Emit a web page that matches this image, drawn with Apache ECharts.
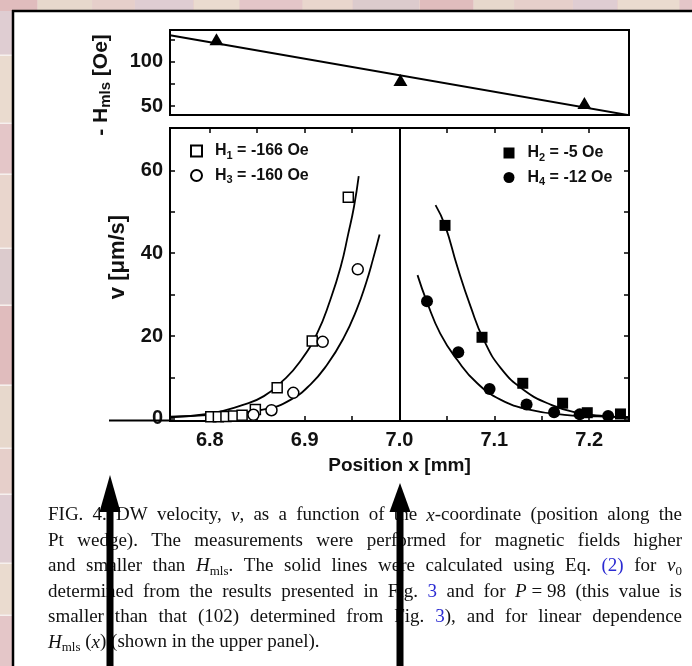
<!DOCTYPE html>
<html><head><meta charset="utf-8">
<script src="https://cdn.jsdelivr.net/npm/echarts@6/dist/echarts.min.js"></script>
<style>html,body{margin:0;padding:0;background:#fff}#c{width:692px;height:666px}</style>
</head><body><div id="c"></div>
<script>
// ---------- data ----------
const xMin = 6.758, xMax = 7.242;
const xTicks = [6.8, 6.85, 6.9, 6.95, 7.0, 7.05, 7.1, 7.15, 7.2];
const xLabels = [6.8, 6.9, 7.0, 7.1, 7.2];
const vMin = -0.5, vMax = 70.2;
const vTicks = [0, 10, 20, 30, 40, 50, 60];
const vLabels = [0, 20, 40, 60];
const hMin = 40, hMax = 136;
const hTicks = [50, 75, 100, 125];
const hLabels = [50, 100];
const dividerX = 7.0;

const hmlsX = [6.807, 7.001, 7.195];
const hmlsY = [125.5, 79.5, 53.5];
const hmlsFitX = [6.758, 7.242];
const hmlsFitY = [130.1, 39.8];

const h1X = [6.801, 6.809, 6.817, 6.825, 6.834, 6.848, 6.871, 6.908, 6.946];
const h1Y = [0.5, 0.5, 0.6, 0.7, 0.9, 2.3, 7.5, 18.8, 53.5];
const h3X = [6.846, 6.865, 6.888, 6.919, 6.956];
const h3Y = [1.0, 2.1, 6.3, 18.6, 36.1];
const h2X = [7.048, 7.087, 7.130, 7.172, 7.198, 7.233];
const h2Y = [46.7, 19.7, 8.6, 3.8, 1.5, 1.2];
const h4X = [7.029, 7.062, 7.095, 7.134, 7.163, 7.190, 7.220];
const h4Y = [28.4, 16.1, 7.2, 3.5, 1.6, 1.1, 0.7];

const fitH1X = [6.758, 6.800, 6.835, 6.857, 6.878, 6.895, 6.913, 6.927, 6.938, 6.946, 6.952, 6.957];
const fitH1Y = [0.55, 1.3, 3.4, 5.5, 9.4, 13.8, 20.6, 28.7, 36.7, 44.7, 51.2, 58.6];
const fitH3X = [6.758, 6.825, 6.860, 6.885, 6.906, 6.924, 6.941, 6.955, 6.965, 6.972, 6.979];
const fitH3Y = [0.4, 1.4, 2.4, 4.6, 8.3, 13.2, 19.5, 26.5, 33.0, 38.5, 44.5];
const fitH2X = [7.038, 7.048, 7.061, 7.075, 7.089, 7.107, 7.131, 7.160, 7.188, 7.216, 7.242];
const fitH2Y = [51.6, 46.7, 36.7, 27.1, 19.0, 12.2, 7.0, 3.4, 1.5, 0.7, 0.4];
const fitH4X = [7.019, 7.029, 7.043, 7.061, 7.082, 7.107, 7.138, 7.174, 7.209, 7.242];
const fitH4Y = [34.7, 28.2, 20.6, 14.2, 8.6, 4.6, 2.2, 1.0, 0.6, 0.4];

const legendText = {
  H1: '{g|}{t|H}{s|1}{t| = -166 Oe}',
  H3: '{g|}{t|H}{s|3}{t| = -160 Oe}',
  H2: '{g|}{t|H}{s|2}{t| = -5 Oe}',
  H4: '{g|}{t|H}{s|4}{t| = -12 Oe}'
};

const captionLines = [
  'FIG. 4. DW velocity, {i|v}, as a function of the {i|x}-coordinate (position along the',
  'Pt wedge). The measurements were performed for magnetic fields higher',
  'and smaller than {i|H}{s|mls}. The solid lines were calculated using Eq. {b|(2)} for {i|v}{s|0}',
  'determined from the results presented in Fig. {b|3} and for {i|P}{n|\u00a0=\u00a098} (this value is',
  'smaller than that (102) determined from Fig. {b|3}), and for linear dependence',
  '{i|H}{s|mls} ({i|x}) (shown in the upper panel).'
];

// ---------- helpers ----------
const pairs = (xs, ys) => xs.map((x, i) => [x, ys[i]]);
const SANS = '"Liberation Sans", Arial, sans-serif';
const SERIF = '"Liberation Serif", "Times New Roman", serif';
const capFonts = {
  n: '19px ' + SERIF, i: 'italic 19px ' + SERIF, s: '13px ' + SERIF, b: '19px ' + SERIF
};
const INK = '#111', BLUE = '#2b2bd2';
const capRich = {
  n: { fontFamily: SERIF, fontSize: 19, lineHeight: 24, fill: INK, color: INK },
  i: { fontFamily: SERIF, fontSize: 19, fontStyle: 'italic', lineHeight: 24, fill: INK, color: INK },
  b: { fontFamily: SERIF, fontSize: 19, lineHeight: 24, fill: BLUE, color: BLUE },
  s: { fontFamily: SERIF, fontSize: 13, lineHeight: 14, verticalAlign: 'bottom', fill: INK, color: INK }
};
const mctx = document.createElement('canvas').getContext('2d');
function parseWord(w) {
  const out = []; const re = /\{(\w+)\|([^}]*)\}/g; let last = 0, m;
  while ((m = re.exec(w))) {
    if (m.index > last) out.push(['n', w.slice(last, m.index)]);
    out.push([m[1], m[2]]); last = re.lastIndex;
  }
  if (last < w.length) out.push(['n', w.slice(last)]);
  return out;
}
function wordWidth(tokens) {
  let s = 0;
  tokens.forEach(([st, tx]) => { mctx.font = capFonts[st]; s += mctx.measureText(tx).width; });
  return s;
}
const capLeft = 48, capRight = 682, capTop = 522, capStep = 25.4;
const captionGraphics = [];
captionLines.forEach((line, li) => {
  const words = line.split(' ').map(parseWord);
  const widths = words.map(wordWidth);
  const total = widths.reduce((a, b) => a + b, 0);
  mctx.font = capFonts.n;
  const spaceW = mctx.measureText(' ').width;
  const last = li === captionLines.length - 1;
  const gap = last ? spaceW : (capRight - capLeft - total) / (words.length - 1);
  let x = capLeft;
  const yMid = capTop + li * capStep - 6.5;
  words.forEach((tokens, wi) => {
    captionGraphics.push({
      type: 'text', x: x, y: yMid, z: 50,
      style: {
        text: tokens.map(([st, tx]) => '{' + st + '|' + tx + '}').join(''),
        rich: capRich, align: 'left', verticalAlign: 'middle'
      }
    });
    x += widths[wi] + gap;
  });
});

// background tiles (decoration)
const bgGraphics = [];
const tileColors = ['#e0bcbd', '#e7d8cc', '#e6cfca', '#dfcdd2', '#eadbcf', '#e4c6c8', '#e9d6cd', '#dccbcd'];
bgGraphics.push({ type: 'rect', z: -20, shape: { x: 0, y: 0, width: 692, height: 666 }, style: { fill: '#e6d0cc' } });
for (let i = 0, x = 0; x < 692; i++) {
  const w = 38 + (i * 17) % 30;
  bgGraphics.push({ type: 'rect', z: -19, shape: { x: x, y: 0, width: w - 1, height: 11 }, style: { fill: tileColors[i % tileColors.length] } });
  x += w;
}
for (let i = 0, y = 11; y < 666; i++) {
  const h = 45 + (i * 23) % 40;
  bgGraphics.push({ type: 'rect', z: -19, shape: { x: 0, y: y, width: 12, height: h - 1.5 }, style: { fill: tileColors[(i + 3) % tileColors.length] } });
  bgGraphics.push({ type: 'rect', z: -19, shape: { x: 0, y: y + h - 1.5, width: 12, height: 1.5 }, style: { fill: '#f6f0ee' } });
  y += h;
}
bgGraphics.push({ type: 'rect', z: -18, shape: { x: 13, y: 11, width: 679, height: 655 }, style: { fill: '#ffffff' } });
bgGraphics.push({ type: 'line', z: -17, shape: { x1: 12, y1: 11, x2: 692, y2: 11 }, style: { stroke: '#000', lineWidth: 2.5 } });
bgGraphics.push({ type: 'line', z: -17, shape: { x1: 13, y1: 10, x2: 13, y2: 666 }, style: { stroke: '#000', lineWidth: 2.5 } });

// arrows (decoration)
function arrow(cx, tip, base) {
  return [
    { type: 'polygon', z: 100, shape: { points: [[cx, tip], [cx - 10.5, base], [cx + 10.5, base]] }, style: { fill: '#000' } },
    { type: 'rect', z: 100, shape: { x: cx - 3.5, y: base - 1, width: 7, height: 666 - base + 1 }, style: { fill: '#000' } }
  ];
}

const titleGraphics = [
  { type: 'text', x: 101, y: 85, rotation: Math.PI / 2, z: 50,
    style: { text: '{t|- H}{s|mls}{t| [Oe]}', align: 'center', verticalAlign: 'middle',
      rich: { t: { fontFamily: SANS, fontWeight: 'bold', fontSize: 21, lineHeight: 24, fill: INK },
              s: { fontFamily: SANS, fontWeight: 'bold', fontSize: 15, lineHeight: 15, verticalAlign: 'bottom', fill: INK } } } },
  { type: 'text', x: 118, y: 257, rotation: Math.PI / 2, z: 50,
    style: { text: 'v [\u03bcm/s]', align: 'center', verticalAlign: 'middle',
      font: 'bold 22px ' + SANS, fill: INK } },
  { type: 'line', z: 60, shape: { x1: 109, y1: 420.5, x2: 171, y2: 420.5 }, style: { stroke: '#000', lineWidth: 2.2 } }
];

const axisLabelStyle = { fontFamily: SANS, fontWeight: 'bold', fontSize: 20, color: INK };
const tickStyle = { lineStyle: { color: '#000', width: 1.5 } };
const legendRich = {
  g: { width: 8 },
  t: { fontFamily: SANS, fontWeight: 'bold', fontSize: 16, lineHeight: 20, color: INK },
  s: { fontFamily: SANS, fontWeight: 'bold', fontSize: 11, lineHeight: 10, verticalAlign: 'bottom', color: INK }
};
const fitLine = { color: '#000', width: 1.8 };
const SMOOTH = 0.5;

const chart = echarts.init(document.getElementById('c'), null, { renderer: 'canvas' });
chart.setOption({
  animation: false,
  backgroundColor: 'transparent',
  graphic: { elements: [...bgGraphics, ...captionGraphics, ...titleGraphics, ...arrow(110, 475, 512), ...arrow(400, 483, 512)] },
  grid: [
    { left: 170, top: 30, width: 459, height: 85, show: true, borderColor: '#000', borderWidth: 2, backgroundColor: 'transparent' },
    { left: 170, top: 128, width: 459, height: 293, show: true, borderColor: '#000', borderWidth: 2, backgroundColor: 'transparent' }
  ],
  legend: [
    { data: ['H1', 'H3'], orient: 'vertical', left: 185, top: 138, itemWidth: 11, itemHeight: 11, itemGap: 6.5,
      formatter: n => legendText[n], selectedMode: false, textStyle: { rich: legendRich } },
    { data: ['H2', 'H4'], orient: 'vertical', left: 498.5, top: 140, itemWidth: 11, itemHeight: 11, itemGap: 6.5,
      formatter: n => legendText[n], selectedMode: false, textStyle: { rich: legendRich } }
  ],
  xAxis: [
    { type: 'value', gridIndex: 0, min: xMin, max: xMax, axisLine: { show: false }, axisTick: { show: false },
      axisLabel: { show: false }, splitLine: { show: false } },
    { type: 'value', gridIndex: 1, min: xMin, max: xMax, position: 'bottom',
      axisLine: { show: false, onZero: false },
      axisTick: { inside: true, length: 5, customValues: xTicks, ...tickStyle },
      axisLabel: { customValues: xLabels, margin: 9, formatter: v => v.toFixed(1), ...axisLabelStyle },
      splitLine: { show: false },
      name: 'Position x [mm]', nameLocation: 'middle', nameGap: 35,
      nameTextStyle: { fontFamily: SANS, fontWeight: 'bold', fontSize: 19, color: INK } },
    { type: 'value', gridIndex: 1, min: xMin, max: xMax, position: 'top',
      axisLine: { show: false, onZero: false },
      axisTick: { inside: true, length: 5, customValues: xTicks, ...tickStyle },
      axisLabel: { show: false }, splitLine: { show: false } }
  ],
  yAxis: [
    { type: 'value', gridIndex: 0, min: hMin, max: hMax, axisLine: { show: false },
      axisTick: { inside: true, length: 5, customValues: hTicks, ...tickStyle },
      axisLabel: { customValues: hLabels, margin: 7, ...axisLabelStyle }, splitLine: { show: false } },
    { type: 'value', gridIndex: 1, min: vMin, max: vMax, position: 'left', axisLine: { show: false, onZero: false },
      axisTick: { inside: true, length: 5, customValues: vTicks, ...tickStyle },
      axisLabel: { customValues: vLabels, margin: 7, ...axisLabelStyle }, splitLine: { show: false } },
    { type: 'value', gridIndex: 1, min: vMin, max: vMax, position: 'right', axisLine: { show: false, onZero: false },
      axisTick: { inside: true, length: 5, customValues: vTicks, ...tickStyle },
      axisLabel: { show: false }, splitLine: { show: false } }
  ],
  series: [
    { type: 'line', xAxisIndex: 0, yAxisIndex: 0, data: pairs(hmlsFitX, hmlsFitY), symbol: 'none',
      lineStyle: { color: '#000', width: 2 }, clip: true, z: 3 },
    { type: 'scatter', xAxisIndex: 0, yAxisIndex: 0, data: pairs(hmlsX, hmlsY), symbol: 'triangle', symbolSize: [14, 12],
      itemStyle: { color: '#000', opacity: 1 }, z: 4 },
    { type: 'line', xAxisIndex: 1, yAxisIndex: 1, data: pairs(fitH1X, fitH1Y), symbol: 'none', lineStyle: fitLine, z: 3,
      smooth: SMOOTH,
      markLine: { silent: true, symbol: 'none', label: { show: false }, lineStyle: { color: '#000', width: 2, type: 'solid' },
        data: [{ xAxis: dividerX }] } },
    { type: 'line', xAxisIndex: 1, yAxisIndex: 1, data: pairs(fitH3X, fitH3Y), symbol: 'none', lineStyle: fitLine, z: 3,
      smooth: SMOOTH },
    { type: 'line', xAxisIndex: 1, yAxisIndex: 1, data: pairs(fitH2X, fitH2Y), symbol: 'none', lineStyle: fitLine, z: 3,
      smooth: SMOOTH },
    { type: 'line', xAxisIndex: 1, yAxisIndex: 1, data: pairs(fitH4X, fitH4Y), symbol: 'none', lineStyle: fitLine, z: 3,
      smooth: SMOOTH },
    { name: 'H1', type: 'scatter', xAxisIndex: 1, yAxisIndex: 1, data: pairs(h1X, h1Y), symbol: 'rect', symbolSize: 10,
      itemStyle: { color: '#fff', borderColor: '#000', borderWidth: 1.5, opacity: 1 }, z: 4 },
    { name: 'H3', type: 'scatter', xAxisIndex: 1, yAxisIndex: 1, data: pairs(h3X, h3Y), symbol: 'circle', symbolSize: 11,
      itemStyle: { color: '#fff', borderColor: '#000', borderWidth: 1.5, opacity: 1 }, z: 4 },
    { name: 'H2', type: 'scatter', xAxisIndex: 1, yAxisIndex: 1, data: pairs(h2X, h2Y), symbol: 'rect', symbolSize: 11,
      itemStyle: { color: '#000', opacity: 1 }, z: 4 },
    { name: 'H4', type: 'scatter', xAxisIndex: 1, yAxisIndex: 1, data: pairs(h4X, h4Y), symbol: 'circle', symbolSize: 12,
      itemStyle: { color: '#000', opacity: 1 }, z: 4 }
  ]
});
</script>
</body></html>
